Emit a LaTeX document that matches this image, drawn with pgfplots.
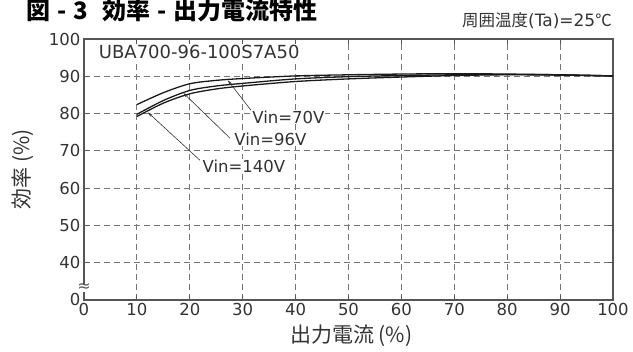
\documentclass[border=0pt]{standalone}
\usepackage{fontspec}
\setmainfont{DejaVu Sans}
\newfontfamily\cjk{Noto Sans CJK JP}
\usepackage{pgfplots}
\pgfplotsset{compat=1.18}
\usetikzlibrary{arrows.meta}
\definecolor{txt}{HTML}{333333}
\definecolor{axc}{HTML}{555555}
\definecolor{grd}{HTML}{777777}
\definecolor{crv}{HTML}{1A1A1A}
\begin{document}
\begin{tikzpicture}
\path[use as bounding box] (-84pt,-52pt) rectangle (549pt,300pt);
\begin{axis}[
  at={(0pt,0pt)}, anchor=south west,
  width=529pt, height=261pt, scale only axis,
  xmin=0, xmax=100, ymin=30, ymax=100,
  xtick={0,10,...,100},
  ytick={30,40,...,100},
  yticklabels={0,40,50,60,70,80,90,100},
  grid=major,
  major grid style={grd, dash pattern=on 6pt off 4pt, line width=0.9pt},
  axis line style={axc, line width=1.3pt},
  tick style={axc, line width=1pt},
  major tick length=5pt,
  tick align=inside,
  ticklabel style={font=\fontsize{16.5}{16.5}\selectfont, text=txt},
  /pgf/number format/assume math mode=true,
  xlabel={出力電流 (\%)}, ylabel={効率 (\%)},
  label style={font=\cjk\fontsize{21}{21}\selectfont, text=txt},
  xlabel style={at={(axis description cs:0.505,-0.138)}, anchor=center},
  ylabel style={at={(axis description cs:-0.1153,0.5)}, anchor=center},
  clip=false,
]
\addplot[crv, line width=1.3pt, smooth] coordinates {
(10,82.4) (15,85.6) (20,88.0) (25,88.9) (30,89.4) (40,90.1) (50,90.4) (60,90.6) (70,90.7) (80,90.6) (90,90.4) (100,90.1)};
\addplot[crv, line width=1.3pt, smooth] coordinates {
(10,79.8) (15,83.5) (20,86.2) (25,87.4) (30,88.1) (40,89.3) (50,89.9) (60,90.2) (70,90.4) (80,90.5) (90,90.4) (100,90.1)};
\addplot[crv, line width=1.3pt, smooth] coordinates {
(10,79.2) (15,82.8) (20,85.3) (25,86.6) (30,87.4) (40,88.6) (50,89.3) (60,89.8) (70,90.2) (80,90.4) (90,90.3) (100,90.1)};

\draw[txt, line width=0.6pt, -{Stealth[length=5pt,width=3pt]}] (axis cs:32.0,80.1) -- (axis cs:27.2,88.9);
\draw[txt, line width=0.6pt, -{Stealth[length=5pt,width=3pt]}] (axis cs:27.6,73.4) -- (axis cs:18.8,85.5);
\draw[txt, line width=0.6pt, -{Stealth[length=5pt,width=3pt]}] (axis cs:21.9,67.5) -- (axis cs:12.1,80.3);

\node[anchor=west, fill=white, inner sep=1pt, text=txt, font=\fontsize{16.5}{16.5}\selectfont] at (axis cs:31.6,79.1) {Vin=70V};
\node[anchor=west, fill=white, inner sep=1pt, text=txt, font=\fontsize{16.5}{16.5}\selectfont] at (axis cs:28.2,73.2) {Vin=96V};
\node[anchor=west, fill=white, inner sep=1pt, text=txt, font=\fontsize{16.5}{16.5}\selectfont] at (axis cs:22.2,65.9) {Vin=140V};

\node[anchor=west, fill=white, inner sep=1pt, text=txt, font=\fontsize{18}{18}\selectfont] at (axis cs:2.6,96.5) {UBA700-96-100S7A50};

\node[fill=white, inner sep=0pt, text=axc, font=\fontsize{16}{16}\selectfont] at (axis cs:0,33.3) {≈};
\end{axis}
\node[anchor=base east, text=black, font=\cjk\bfseries\fontsize{24}{24}\selectfont, inner sep=0pt] at (234pt,280pt) {図\hspace{7pt}-\hspace{7pt}3\hspace{14pt}効率\hspace{7pt}-\hspace{7pt}出力電流特性};
\node[anchor=base east, text=txt, inner sep=0pt] at (528pt,273pt) {{\cjk\fontsize{16.5}{16.5}\selectfont 周囲温度}{\fontsize{17}{17}\selectfont (Ta)=25}{\cjk\fontsize{16.5}{16.5}\selectfont ℃}};
\end{tikzpicture}
\end{document}
